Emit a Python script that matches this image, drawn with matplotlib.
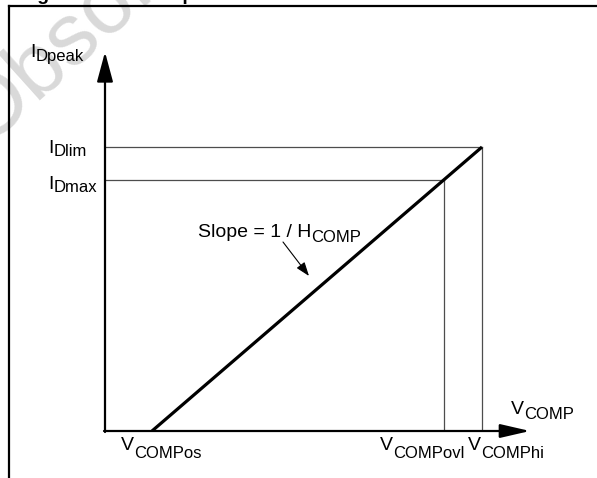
import matplotlib

matplotlib.use("Agg")
import matplotlib.pyplot as plt
from matplotlib.font_manager import FontProperties

plt.rcParams["font.family"] = ["Liberation Sans", "DejaVu Sans"]

W_PX, H_PX, DPI = 597, 478, 100

# breakpoints of the I_Dpeak(V_COMP) characteristic, arbitrary units
V_COMP_OS = 0.47
V_COMP_OVL = 3.39
V_COMP_HI = 3.77
I_D_MAX = 2.51
I_D_LIM = 2.84

slope_x = [V_COMP_OS, V_COMP_HI]
slope_y = [0.0, I_D_LIM]

LABEL_FONT = FontProperties(family=["Liberation Sans", "DejaVu Sans"], size=14)


def sublabel(ax, x, y, main, sub, drop_px, size=14, subsize=12):
    """Main text plus a lowered, smaller subscript right after it."""
    ax.text(x, y, main, fontsize=size, ha="left", va="baseline", color="black")
    rend = ax.figure.canvas.get_renderer()
    w, _, _ = rend.get_text_width_height_descent(main, LABEL_FONT, ismath=False)
    ax.annotate(sub, xy=(x, y), xycoords="data",
                xytext=(w * 72 / DPI, -drop_px * 72 / DPI), textcoords="offset points",
                fontsize=subsize, ha="left", va="baseline", color="black")


fig = plt.figure(figsize=(W_PX / DPI, H_PX / DPI), dpi=DPI)
fig.patch.set_facecolor("white")

# full-figure overlay in pixel units: frame, watermark, labels
ov = fig.add_axes([0, 0, 1, 1])
ov.set_xlim(0, W_PX)
ov.set_ylim(H_PX, 0)
ov.axis("off")

ov.text(-15, 146, "Obsolete", fontsize=63, color="#d9d9d9", rotation=42,
        rotation_mode="anchor", ha="left", va="baseline", zorder=0)
ov.plot([9, 9], [6, H_PX], color="black", lw=1.6, solid_capstyle="projecting")
ov.plot([9, W_PX], [6, 6], color="black", lw=1.6, solid_capstyle="projecting")
fig.text(20 / W_PX, 1.0, "Figure 9. Current peak limitation", fontsize=14,
         fontweight="bold", ha="left", va="baseline")

# chart axes, origin at the crossing of the two arrows
ax = fig.add_axes([105 / W_PX, (H_PX - 431) / H_PX, 455 / W_PX, 401 / H_PX])
ax.set_xlim(0, 4.55)
ax.set_ylim(0, 4.01)
ax.set_facecolor("none")
ax.axis("off")

grey = "#4d4d4d"
ax.plot([0, V_COMP_HI], [I_D_LIM, I_D_LIM], color=grey, lw=0.9)
ax.plot([0, V_COMP_OVL], [I_D_MAX, I_D_MAX], color=grey, lw=0.9)
ax.plot([V_COMP_OVL, V_COMP_OVL], [0, I_D_MAX], color=grey, lw=0.9)
ax.plot([V_COMP_HI, V_COMP_HI], [0, I_D_LIM], color=grey, lw=0.9)
ax.plot(slope_x, slope_y, color="black", lw=2.3, solid_capstyle="butt")

ax.annotate("", xy=(0, 3.79), xytext=(0, -0.01), annotation_clip=False,
            arrowprops=dict(arrowstyle="-|>,head_length=1.3,head_width=0.35",
                            lw=1.6, color="black", mutation_scale=14,
                            shrinkA=0, shrinkB=0))
ax.annotate("", xy=(4.25, 0), xytext=(-0.01, 0), annotation_clip=False,
            arrowprops=dict(arrowstyle="-|>,head_length=1.3,head_width=0.3",
                            lw=1.6, color="black", mutation_scale=14,
                            shrinkA=0, shrinkB=0))

# labels
sublabel(ov, 30, 57, "I", "Dpeak", 4)
sublabel(ov, 48, 153, "I", "Dlim", 3)
sublabel(ov, 48, 189, "I", "Dmax", 3)
sublabel(ov, 121, 450, "V", "COMPos", 8)
sublabel(ov, 380, 450, "V", "COMPovl", 8)
sublabel(ov, 468, 450, "V", "COMPhi", 8)
sublabel(ov, 511, 414, "V", "COMP", 5)
sublabel(ov, 198, 237, "Slope = 1 / H", "COMP", 5)

ov.annotate("", xy=(309, 276), xytext=(283, 242),
            arrowprops=dict(arrowstyle="-|>,head_length=0.7,head_width=0.25",
                            lw=0.8, color="black", mutation_scale=12,
                            shrinkA=0, shrinkB=0))

fig.savefig("out.png", dpi=DPI)
